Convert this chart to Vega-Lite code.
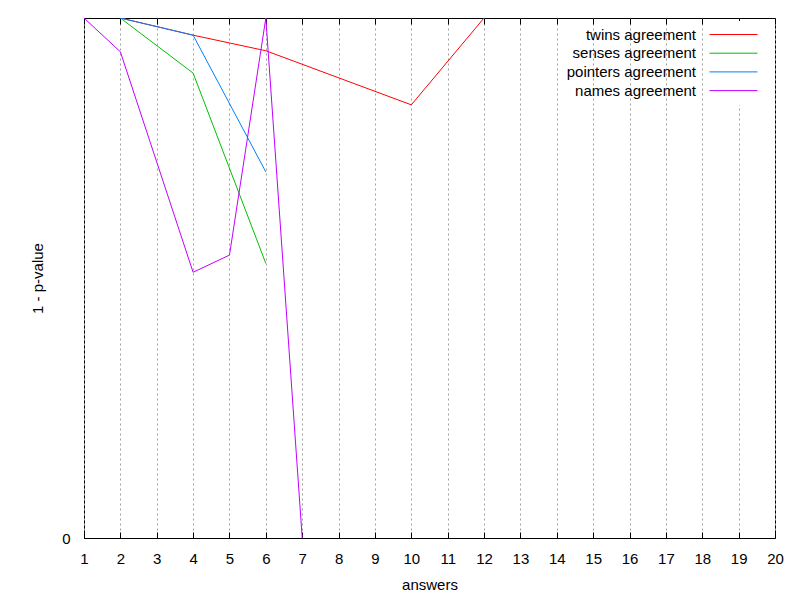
{
  "$schema": "https://vega.github.io/schema/vega-lite/v6.json",
  "width": 691,
  "height": 520,
  "autosize": {"type": "none"},
  "padding": {"left": 84, "top": 18, "right": 25, "bottom": 62},
  "background": "white",
  "config": {
    "font": "Liberation Sans",
    "view": {"stroke": "black", "strokeWidth": 1},
    "axis": {
      "domain": false,
      "tickColor": "black",
      "labelColor": "black",
      "titleColor": "black",
      "labelFont": "Liberation Sans",
      "titleFont": "Liberation Sans",
      "labelFontSize": 15,
      "titleFontSize": 15,
      "titleFontWeight": "normal",
      "labelFlush": false,
      "labelOverlap": false
    }
  },
  "data": {
    "values": [
      {"series": "twins agreement", "answers": 2, "p": 1.0},
      {"series": "twins agreement", "answers": 4, "p": 0.967},
      {"series": "twins agreement", "answers": 6, "p": 0.937},
      {"series": "twins agreement", "answers": 10, "p": 0.833},
      {"series": "twins agreement", "answers": 12, "p": 1.0},
      {"series": "senses agreement", "answers": 2, "p": 1.0},
      {"series": "senses agreement", "answers": 4, "p": 0.894},
      {"series": "senses agreement", "answers": 6, "p": 0.528},
      {"series": "pointers agreement", "answers": 2, "p": 1.0},
      {"series": "pointers agreement", "answers": 4, "p": 0.967},
      {"series": "pointers agreement", "answers": 6, "p": 0.704},
      {"series": "names agreement", "answers": 1, "p": 1.0},
      {"series": "names agreement", "answers": 2, "p": 0.935},
      {"series": "names agreement", "answers": 4, "p": 0.511},
      {"series": "names agreement", "answers": 5, "p": 0.544},
      {"series": "names agreement", "answers": 6, "p": 1.0},
      {"series": "names agreement", "answers": 7, "p": 0.0}
    ]
  },
  "layer": [
    {
      "mark": {"type": "line", "strokeWidth": 1, "clip": true},
      "encoding": {
        "x": {
          "field": "answers",
          "type": "quantitative",
          "scale": {"domain": [1, 20], "nice": false, "zero": false},
          "axis": {
            "orient": "bottom",
            "values": [1,2,3,4,5,6,7,8,9,10,11,12,13,14,15,16,17,18,19,20],
            "format": "d",
            "grid": true,
            "gridColor": "#a0a0a0",
            "gridDash": [2, 3],
            "gridWidth": 1,
            "tickSize": -6,
            "labelPadding": 19,
            "title": "answers",
            "titlePadding": 11
          }
        },
        "y": {
          "field": "p",
          "type": "quantitative",
          "scale": {"domain": [0, 1], "nice": false},
          "axis": {
            "values": [0],
            "format": "d",
            "grid": false,
            "tickSize": -6,
            "labelPadding": 20,
            "title": "1 - p-value",
            "titlePadding": 16
          }
        },
        "color": {
          "field": "series",
          "type": "nominal",
          "sort": ["twins agreement", "senses agreement", "pointers agreement", "names agreement"],
          "scale": {
            "domain": ["twins agreement", "senses agreement", "pointers agreement", "names agreement"],
            "range": ["#ff0000", "#00c000", "#0080ff", "#c000ff"]
          },
          "legend": {
            "title": null,
            "orient": "none",
            "legendX": 636,
            "legendY": 3,
            "fillColor": "white",
            "symbolType": "M-4,0H4",
            "symbolSize": 144,
            "symbolStrokeWidth": 1,
            "labelAlign": "right",
            "labelOffset": -45,
            "labelFont": "Liberation Sans",
            "labelFontSize": 15,
            "labelColor": "black",
            "rowPadding": 2.7,
            "padding": 6,
            "encode": {
              "symbols": {
                "update": {
                  "stroke": {"scale": "color", "field": "value"},
                  "fill": {"value": "transparent"}
                }
              }
            }
          }
        }
      }
    },
    {
      "mark": {"type": "line", "opacity": 0},
      "encoding": {
        "x": {
          "field": "answers",
          "type": "quantitative",
          "scale": {"domain": [1, 20], "nice": false, "zero": false},
          "axis": {
            "orient": "top",
            "values": [1,2,3,4,5,6,7,8,9,10,11,12,13,14,15,16,17,18,19,20],
            "labels": false,
            "grid": false,
            "tickSize": -6,
            "title": null
          }
        },
        "y": {"field": "p", "type": "quantitative"}
      }
    }
  ]
}
